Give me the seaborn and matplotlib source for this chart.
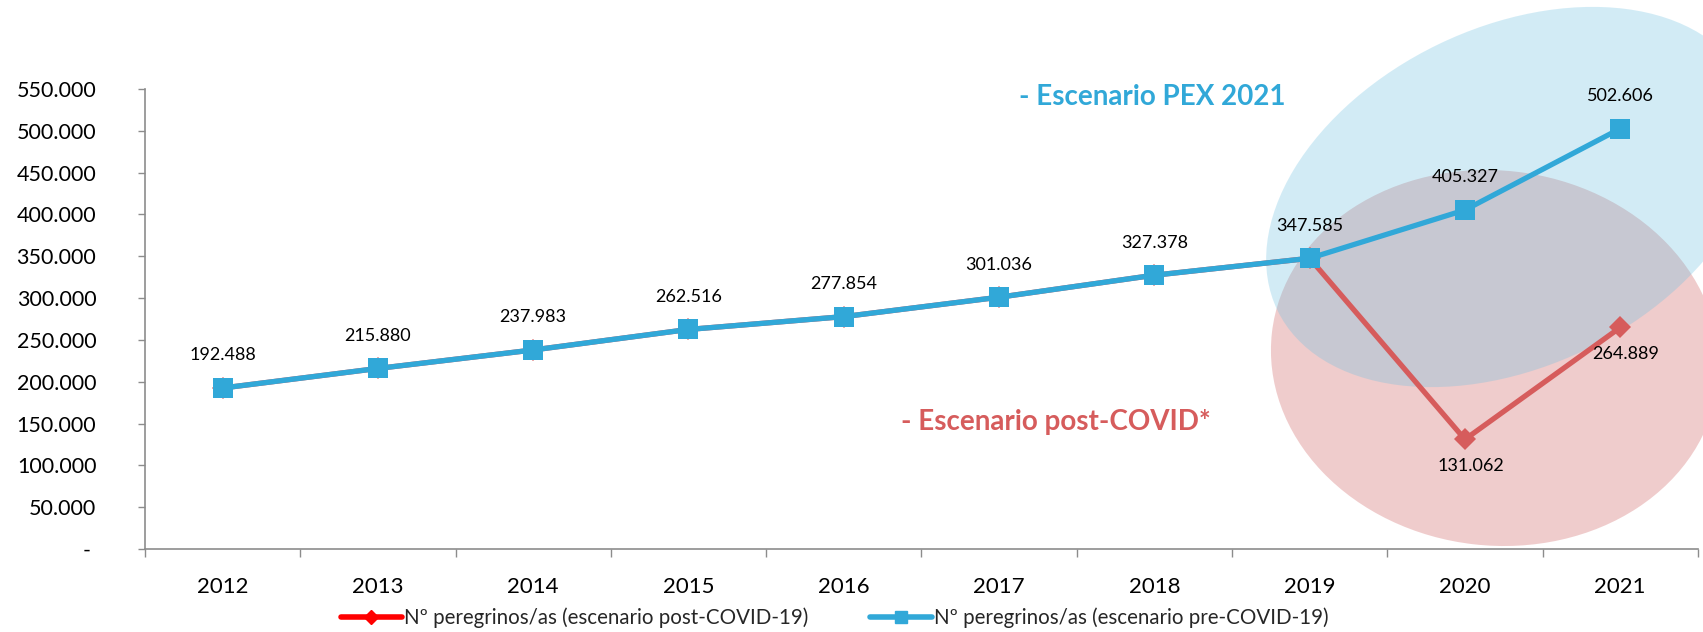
import pandas as pd
import matplotlib
matplotlib.use("Agg")
import matplotlib.pyplot as plt
import seaborn as sns
from matplotlib.lines import Line2D
from matplotlib.patches import Ellipse
from matplotlib.ticker import FuncFormatter, MultipleLocator

# data
years = [2012, 2013, 2014, 2015, 2016, 2017, 2018, 2019, 2020, 2021]
pre_covid = [192488, 215880, 237983, 262516, 277854, 301036, 327378, 347585, 405327, 502606]
post_covid = [192488, 215880, 237983, 262516, 277854, 301036, 327378, 347585, 131062, 264889]
legend_labels = ["Nº peregrinos/as (escenario post-COVID-19)",
                 "Nº peregrinos/as (escenario pre-COVID-19)"]

df = pd.DataFrame({"year": years, "pre": pre_covid, "post": post_covid})

blue = "#31A8D8"
red = "#D65C5C"
grey = "#8C8C8C"

sns.set_theme(style="white")
plt.rcParams["font.family"] = ["Lato", "DejaVu Sans"]

fig = plt.figure(figsize=(17.03, 6.32), dpi=100)
ax = fig.add_axes([0.0851, 0.1313, 0.9119, 0.7279])

# highlight ellipses (red below, blue on top), sized in inches
ax.add_patch(Ellipse((14.95, 2.74), 4.49, 3.75, angle=-6.5, transform=fig.dpi_scale_trans,
                     facecolor="#CD5858", alpha=0.3, edgecolor="none", clip_on=False, zorder=0))
ax.add_patch(Ellipse((15.12, 4.35), 5.21, 3.39, angle=25.8, transform=fig.dpi_scale_trans,
                     facecolor="#6CC0E1", alpha=0.3, edgecolor="none", clip_on=False, zorder=0.5))

sns.lineplot(data=df, x="year", y="post", ax=ax, color=red, linewidth=3.8,
             marker="D", markersize=11, markeredgewidth=0, zorder=3)
sns.lineplot(data=df, x="year", y="pre", ax=ax, color=blue, linewidth=3.8,
             marker="s", markersize=14, markeredgewidth=0, zorder=4)

# data labels
for x, v in zip(df["year"], df["pre"]):
    ax.annotate(f"{v:,}".replace(",", "."), (x, v), xytext=(0, 23.5), textcoords="offset points",
                ha="center", va="center", fontsize=13, color="black", zorder=5)
for x, v, p in zip(df["year"], df["post"], df["pre"]):
    if v != p:
        ax.annotate(f"{v:,}".replace(",", "."), (x, v), xytext=(4, -19), textcoords="offset points",
                    ha="center", va="center", fontsize=13, color="black", zorder=5)

ax.set_xlim(years[0] - 0.5, years[-1] + 0.5)
ax.set_ylim(0, 550000)
ax.yaxis.set_major_locator(MultipleLocator(50000))
ax.yaxis.set_major_formatter(FuncFormatter(
    lambda v, p: "- " if v == 0 else f"{int(v):,}".replace(",", ".")))
ax.set_xticks(years)
ax.set_xticklabels([str(y) for y in years])
ax.set_xticks([y + 0.5 for y in [years[0] - 1] + years], minor=True)
ax.set_xlabel("")
ax.set_ylabel("")

ax.tick_params(axis="y", which="major", left=True, length=5, width=1, color=grey,
               labelsize=15.5, pad=30, labelcolor="black")
ax.tick_params(axis="x", which="major", bottom=False, length=0, labelsize=16, pad=20,
               labelcolor="black")
ax.tick_params(axis="x", which="minor", bottom=True, length=6, width=1, color=grey)

for s in ["top", "right"]:
    ax.spines[s].set_visible(False)
for s in ["left", "bottom"]:
    ax.spines[s].set_color(grey)
    ax.spines[s].set_linewidth(1.2)
ax.grid(False)

fig.text(0.6765, 0.8465, "- Escenario PEX 2021", color=blue, fontsize=20,
         fontweight="bold", ha="center", va="center")
fig.text(0.620, 0.332, "- Escenario post-COVID*", color=red, fontsize=20,
         fontweight="bold", ha="center", va="center")

handles = [Line2D([], [], color="#FF0000", linewidth=4, marker="D", markersize=7),
           Line2D([], [], color=blue, linewidth=4, marker="s", markersize=8)]
fig.legend(handles, legend_labels, loc="center", bbox_to_anchor=(0.49, 0.022), ncol=2,
           frameon=False, fontsize=14.8, handlelength=3.0, handletextpad=0.1,
           columnspacing=3.0)

fig.savefig("out.png", dpi=100)
